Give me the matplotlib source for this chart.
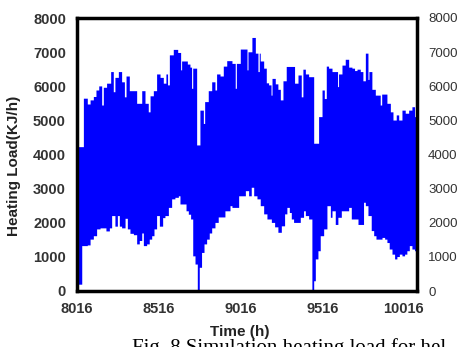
import numpy as np
import matplotlib
matplotlib.use("Agg")
import matplotlib.pyplot as plt

# ---- data ----
upper_hours = [8016, 8055, 8079, 8096, 8116, 8132, 8149, 8167, 8177, 8197, 8222, 8238, 8248,
               8269, 8289, 8306, 8316, 8336, 8381, 8412, 8432, 8452, 8463, 8483, 8503, 8524,
               8544, 8560, 8570, 8581, 8605, 8632, 8650, 8656, 8691, 8707, 8717, 8724, 8748,
               8768, 8789, 8797, 8819, 8840, 8860, 8870, 8891, 8911, 8932,
               8964, 8984, 8991, 9015, 9056, 9062, 9086, 9107, 9123, 9131, 9137, 9158, 9174,
               9188, 9203, 9209, 9229, 9245, 9260, 9276, 9296, 9347, 9368, 9388, 9398, 9413,
               9433, 9464, 9494, 9515, 9529, 9541, 9555, 9576, 9610, 9616, 9637, 9657, 9678,
               9698, 9714, 9729, 9749, 9765, 9780, 9796, 9802, 9820, 9841, 9871, 9880, 9912,
               9933, 9949, 9969, 9984, 10004, 10024, 10045, 10065, 10081]
upper_vals = [4230, 5650, 5480, 5600, 5700, 5890, 6010, 5450, 5970, 6090, 6430, 5840, 6260,
              6430, 6130, 5690, 6300, 5870, 5500, 5870, 5500, 5250, 5720, 5870, 6360, 6260,
              6090, 6360, 6040, 6920, 7080, 6990, 6480, 6740, 6650, 6560, 5940, 6530, 4280,
              5300, 4910, 5550, 5870, 6130, 5890, 6360, 6300, 6590, 6750,
              6670, 5940, 6670, 7090, 6480, 7010, 7430, 6970, 6430, 6970, 6740, 6530, 6100,
              6040, 5740, 6230, 6070, 5910, 5600, 6160, 6580, 6090, 6330, 5690, 6500, 6360,
              6280, 4330, 5110, 5890, 5640, 6590, 6530, 6430, 5990, 6360, 6620, 6790, 6560,
              6530, 6460, 6500, 6430, 6160, 6970, 6200, 6430, 5910, 5740, 5450, 5770, 5500,
              5250, 5010, 5160, 5010, 5300, 5210, 5300, 5400, 5110]

lower_hours = [8016, 8045, 8079, 8096, 8116, 8136, 8157, 8193, 8214, 8228, 8248, 8263, 8275,
               8289, 8310, 8324, 8340, 8361, 8381, 8397, 8412, 8422, 8442, 8458, 8473, 8487,
               8503, 8520, 8540, 8554, 8575, 8595, 8615, 8636, 8646, 8683, 8697, 8711, 8724,
               8738, 8752, 8764, 8778, 8793, 8809, 8825, 8840, 8860, 8880, 8921, 8952,
               8964, 9005, 9046, 9066, 9082, 9097, 9117, 9137, 9158, 9178, 9205, 9225, 9245,
               9266, 9286, 9300, 9315, 9327, 9341, 9382, 9402, 9413, 9433, 9453, 9464, 9474,
               9490, 9504, 9525, 9545, 9566, 9576, 9596, 9612, 9633, 9678, 9694, 9735, 9769,
               9780, 9796, 9816, 9831, 9845, 9882, 9898, 9912, 9926, 9943, 9959, 9973, 9988,
               10004, 10020, 10034, 10049, 10065, 10081]
lower_vals = [200, 1330, 1350, 1520, 1620, 1820, 1850, 1760, 1850, 2210, 1900, 2210, 1900,
              1850, 2130, 1820, 1690, 1650, 1380, 1480, 1700, 1330, 1380, 1520, 1620, 1820,
              2210, 1900, 2150, 2210, 2450, 2700, 2745, 2790, 2550, 2350, 2250, 2110, 1030,
              790, 0, 695, 1130, 1380, 1520, 1700, 1850, 2010, 2170, 2350, 2500,
              2450, 2790, 2940, 2790, 3040, 2790, 2700, 2500, 2260, 2110, 2010, 1880, 1720,
              1910, 2260, 2450, 2300, 2110, 2010, 2160, 2350, 2210, 2110, 0, 300, 940,
              1180, 1620, 1820, 2500, 2160, 2350, 1950, 2160, 2350, 2450, 2110, 1950, 2600,
              2500, 2210, 1770, 1620, 1520, 1570, 1520, 1420, 1230, 1080, 940, 1010, 1080,
              1030, 1080, 1180, 1330, 1230, 1180]

x_start, x_end = 8016, 10096
xticks = [8016, 8516, 9016, 9516, 10016]
yticks = [0, 1000, 2000, 3000, 4000, 5000, 6000, 7000, 8000]

# ---- build step series on an hourly grid ----
hours = np.arange(x_start, x_end + 1)
up = np.array(upper_vals)[np.searchsorted(upper_hours, hours, side="right") - 1]
lo = np.array(lower_vals)[np.searchsorted(lower_hours, hours, side="right") - 1]

fig = plt.figure(figsize=(4.64, 3.47), dpi=100)
ax = fig.add_axes([77 / 464, 56 / 347, 340 / 464, 273 / 347])

ax.fill_between(hours, lo, up, step="post", color="#0000ff", linewidth=0)

ax.set_xlim(x_start, x_end)
ax.set_ylim(0, 8000)
ax.set_xticks(xticks)
ax.set_yticks(yticks)

tick_font = dict(family="Liberation Sans", weight="bold", size=10.5)
ax.set_xticklabels([str(t) for t in xticks], fontdict=tick_font, color="#333333")
ax.set_yticklabels([str(t) for t in yticks], fontdict=tick_font, color="#333333")
ax.tick_params(axis="both", length=0, pad=8)
ax.tick_params(axis="y", right=True, labelright=True)
for tick in ax.yaxis.get_major_ticks():
    tick.label2.set_fontsize(9.5)
    tick.label2.set_fontweight("normal")
    tick.label2.set_color("#333333")

for s in ax.spines.values():
    s.set_linewidth(2.5)
    s.set_color("black")

ax.set_xlabel("Time (h)", family="Liberation Sans", weight="bold", size=11, color="#222222")
ax.xaxis.set_label_coords(0.48, -0.125)
ax.set_ylabel("Heating Load(KJ/h)", family="Liberation Sans", weight="bold", size=11, color="#222222")
ax.yaxis.set_label_coords(-0.165, 0.46)

fig.text(132 / 464, 9 / 347, "Fig. 8 Simulation heating load for hel", family="Liberation Serif",
         size=15, va="top", ha="left", color="black")

fig.savefig("out.png", dpi=100)
